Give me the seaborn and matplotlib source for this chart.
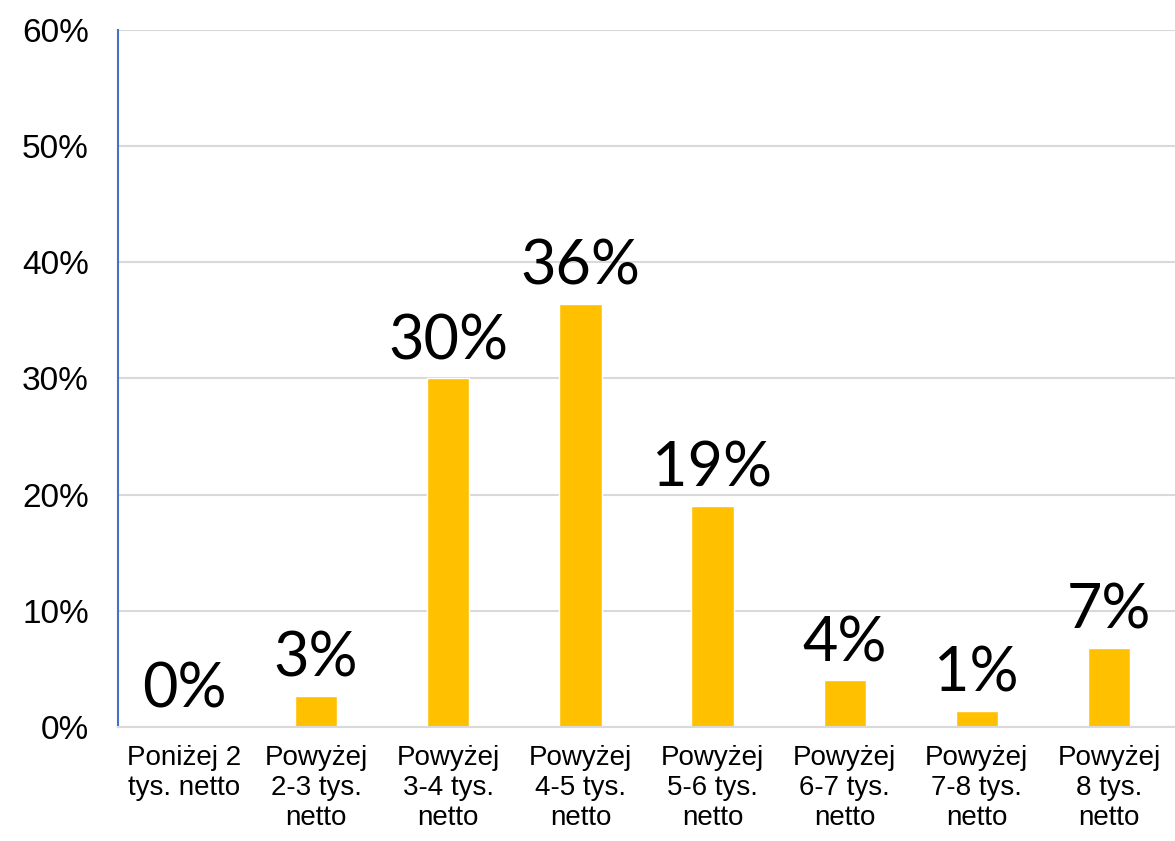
import matplotlib
matplotlib.use("Agg")
import matplotlib.pyplot as plt
import seaborn as sns
import pandas as pd
from matplotlib.ticker import PercentFormatter

# Data
categories = [
    "Poniżej 2\ntys. netto",
    "Powyżej\n2-3 tys.\nnetto",
    "Powyżej\n3-4 tys.\nnetto",
    "Powyżej\n4-5 tys.\nnetto",
    "Powyżej\n5-6 tys.\nnetto",
    "Powyżej\n6-7 tys.\nnetto",
    "Powyżej\n7-8 tys.\nnetto",
    "Powyżej\n8 tys.\nnetto",
]
values = [0.0, 2.7, 30.0, 36.4, 19.0, 4.0, 1.4, 6.8]
value_labels = ["0%", "3%", "30%", "36%", "19%", "4%", "1%", "7%"]

df = pd.DataFrame({"category": categories, "share": values})

sns.set_theme(style="white")
plt.rcParams["font.family"] = ["Liberation Sans", "DejaVu Sans"]

fig = plt.figure(figsize=(11.75, 8.41), dpi=100)
ax = fig.add_axes([0.1004, 0.1356, 0.8996, 0.8287])

sns.barplot(data=df, x="category", y="share", color="#FFC000",
            width=0.32, saturation=1, ax=ax)

ax.set_ylim(0, 60)
ax.yaxis.set_major_locator(plt.MultipleLocator(10))
ax.yaxis.set_major_formatter(PercentFormatter(decimals=0))
ax.grid(axis="y", color="#D9D9D9", linewidth=1.5)
ax.set_axisbelow(True)

for side in ["top", "right"]:
    ax.spines[side].set_visible(False)
ax.spines["left"].set_color("#4472C4")
ax.spines["left"].set_linewidth(1.5)
ax.spines["bottom"].set_color("#D9D9D9")
ax.spines["bottom"].set_linewidth(1.5)

ax.tick_params(axis="y", length=0, pad=21, labelsize=24, labelcolor="black")
ax.tick_params(axis="x", length=0, pad=13, labelsize=20, labelcolor="black")
ax.set_xlabel("")
ax.set_ylabel("")

ax.bar_label(ax.containers[0], labels=value_labels, padding=6,
             fontsize=44, fontweight="normal", color="black",
             family=["Lato", "DejaVu Sans"])

fig.savefig("out.png", dpi=100)
